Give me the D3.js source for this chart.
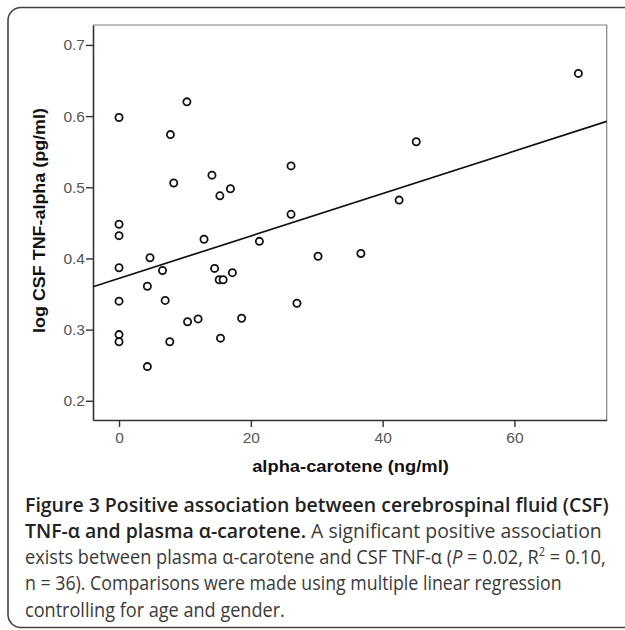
<!DOCTYPE html>
<html>
<head>
<meta charset="utf-8">
<script src="https://cdn.jsdelivr.net/npm/d3@7"></script>
<style>
  body { margin: 0; background: #fff; }
  svg { display: block; }
</style>
</head>
<body>
<div id="chart"></div>
<script>
// alpha-carotene (ng/ml)
const carotene = [0, 10.3, 7.8, 8.3, 14.1, 15.3, 16.9, 0, 0, 0, 0, 0, 0,
  4.3, 4.3, 4.7, 6.6, 7.0, 7.7, 10.4, 12.0, 12.9, 14.5, 15.2, 15.8, 15.4,
  17.2, 18.6, 21.3, 26.1, 26.1, 30.2, 27.0, 36.7, 42.5, 45.1, 69.7]
// log CSF TNF-alpha (pg/ml)
const tnf = [0.598, 0.620, 0.574, 0.506, 0.517, 0.488, 0.498, 0.448, 0.432,
  0.387, 0.340, 0.293, 0.283, 0.248, 0.361, 0.401, 0.383, 0.341, 0.283,
  0.311, 0.315, 0.427, 0.386, 0.370, 0.370, 0.288, 0.380, 0.316, 0.424,
  0.462, 0.530, 0.403, 0.337, 0.407, 0.482, 0.564, 0.660]
const xTicks = [0, 20, 40, 60]
const yTicks = [0.2, 0.3, 0.4, 0.5, 0.6, 0.7]
// fit line
const fitIntercept = 0.372
const fitSlope = 0.00298

const captionLines = [
  [{ t: "Figure 3 Positive association between cerebrospinal fluid (CSF)", b: true }],
  [{ t: "TNF-α and plasma α-carotene.", b: true }, { t: " A significant positive association" }],
  [{ t: "exists between plasma α-carotene and CSF TNF-α (" }, { t: "P", i: true },
   { t: " = 0.02, R" }, { t: "2", sup: true }, { t: " = 0.10,", afterSup: true }],
  [{ t: "n = 36). Comparisons were made using multiple linear regression" }],
  [{ t: "controlling for age and gender." }],
]
// how far each caption line runs in the picture (px)
const captionWidths = [584, 577, 581, 537, 260]

const width = 625
const height = 630
const dims = { left: 93, top: 25, right: 606.7, bottom: 420 }

const svg = d3.select("#chart")
  .append("svg")
  .attr("width", width)
  .attr("height", height)

// outer rounded box
svg.append("rect")
  .attr("x", 8).attr("y", 7.5)
  .attr("width", 660).attr("height", 620)
  .attr("rx", 13)
  .attr("fill", "none")
  .attr("stroke", "#444")
  .attr("stroke-width", 1.6)

// Scales
const xScale = d3.scaleLinear()
  .domain([-3.95, 74])
  .range([dims.left, dims.right])
const yScale = d3.scaleLinear()
  .domain([0.173, 0.728])
  .range([dims.bottom, dims.top])

// frame top/right
svg.append("path")
  .attr("d", `M${dims.left},${dims.top}H${dims.right}V${dims.bottom}`)
  .attr("fill", "none")
  .attr("stroke", "#808080")
  .attr("stroke-width", 1.2)

// axes
const xAxis = svg.append("g")
  .attr("transform", `translate(0,${dims.bottom})`)
  .call(d3.axisBottom(xScale).tickValues(xTicks).tickSize(7).tickSizeOuter(0).tickPadding(5))
const yAxis = svg.append("g")
  .attr("transform", `translate(${dims.left},0)`)
  .call(d3.axisLeft(yScale).tickValues(yTicks).tickFormat(d3.format(".1f")).tickSize(7).tickSizeOuter(0).tickPadding(1))

;[xAxis, yAxis].forEach(ax => {
  ax.select(".domain").attr("stroke", "#333").attr("stroke-width", 1.6)
  ax.selectAll(".tick line").attr("stroke", "#333").attr("stroke-width", 1.4)
  ax.selectAll(".tick text")
    .attr("fill", "#555")
    .style("font-family", "'Liberation Sans', Arial, sans-serif")
    .style("font-size", "15.5px")
})

// regression line
svg.append("line")
  .attr("x1", xScale(-3.95)).attr("y1", yScale(fitIntercept + fitSlope * -3.95))
  .attr("x2", xScale(74)).attr("y2", yScale(fitIntercept + fitSlope * 74))
  .attr("stroke", "#111")
  .attr("stroke-width", 1.7)

// points
svg.append("g")
  .selectAll("circle")
  .data(carotene.map((x, i) => ({ x, y: tnf[i] })))
  .join("circle")
  .attr("cx", d => xScale(d.x))
  .attr("cy", d => yScale(d.y))
  .attr("r", 3.6)
  .attr("fill", "#fff")
  .attr("stroke", "#111")
  .attr("stroke-width", 1.8)

// squeeze/stretch a text to the width it has in the picture
const fitWidth = (sel, target) => {
  const len = sel.node().getComputedTextLength()
  return target / len
}

// axis titles
const xTitle = svg.append("text")
  .attr("text-anchor", "middle")
  .style("font-family", "'Liberation Sans', Arial, sans-serif")
  .style("font-weight", "bold")
  .style("font-size", "16.5px")
  .attr("fill", "#111")
  .text("alpha-carotene (ng/ml)")
xTitle.attr("transform", `translate(350.5,472) scale(${fitWidth(xTitle, 197)},1)`)

const yTitle = svg.append("text")
  .attr("text-anchor", "middle")
  .style("font-family", "'Liberation Sans', Arial, sans-serif")
  .style("font-weight", "bold")
  .style("font-size", "16.5px")
  .attr("fill", "#111")
  .text("log CSF TNF-alpha (pg/ml)")
yTitle.attr("transform", `translate(45,220.5) rotate(-90) scale(${fitWidth(yTitle, 225)},1)`)

// caption
const caption = svg.append("g")
  .style("font-family", "'Open Sans', sans-serif")
  .style("font-size", "20px")
  .attr("fill", "#3a3a3a")
captionLines.forEach((line, i) => {
  const txt = caption.append("text")
  line.forEach(seg => {
    const ts = txt.append("tspan").text(seg.t)
    if (seg.b) ts.style("font-weight", 600).attr("fill", "#222")
    if (seg.i) ts.style("font-style", "italic")
    if (seg.sup) ts.attr("dy", -8).style("font-size", "12px")
    if (seg.afterSup) ts.attr("dy", 8)
  })
  txt.attr("transform", `translate(25,${511.5 + i * 26.3}) scale(${fitWidth(txt, captionWidths[i])},1)`)
})
</script>
</body>
</html>
